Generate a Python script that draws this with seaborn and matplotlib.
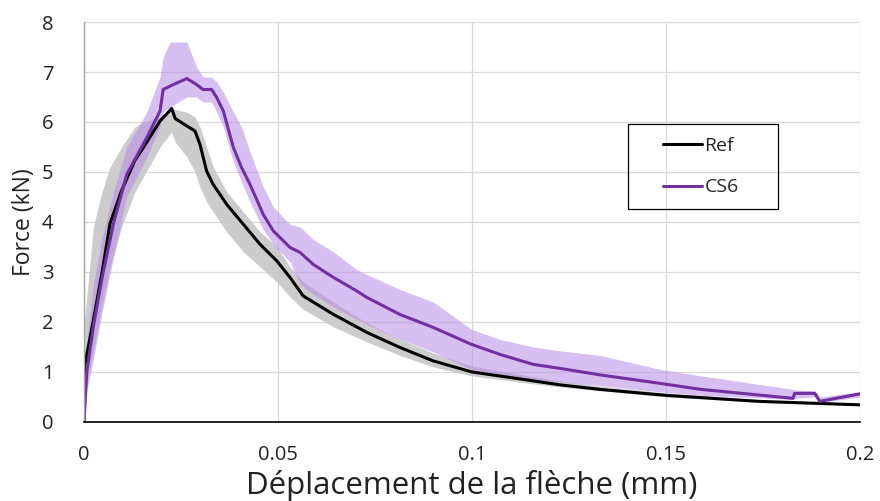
import numpy as np
import pandas as pd
import matplotlib
matplotlib.use("Agg")
import matplotlib.pyplot as plt
from matplotlib.patches import Rectangle
import seaborn as sns

# Ref: mean curve and spread (lower / upper bound of the error band)
ref_x = [0, 0.0001, 0.0024, 0.0046, 0.0067, 0.0097, 0.0131, 0.0153, 0.0196, 0.0226, 0.0235,
         0.0265, 0.0286, 0.0299, 0.0316, 0.0333, 0.0368, 0.0411, 0.0454, 0.0497, 0.0531,
         0.0565, 0.0643, 0.0729, 0.0814, 0.09, 0.0999, 0.1158, 0.1227, 0.133, 0.15,
         0.174, 0.2]
ref_y = [0, 1.1, 2.03, 2.97, 3.97, 4.63, 5.23, 5.49, 6.02, 6.27, 6.07,
         5.92, 5.82, 5.55, 5.02, 4.75, 4.35, 3.95, 3.55, 3.22, 2.89,
         2.52, 2.15, 1.79, 1.49, 1.22, 1.0, 0.82, 0.74, 0.65, 0.53,
         0.41, 0.34]
ref_lo = [0, 0.5, 1.4, 2.3, 3.1, 3.9, 4.6, 4.9, 5.5, 5.8, 5.6,
          5.3, 5.0, 4.7, 4.4, 4.2, 3.8, 3.4, 3.1, 2.8, 2.5,
          2.25, 1.9, 1.6, 1.33, 1.1, 0.92, 0.76, 0.7, 0.62, 0.5,
          0.39, 0.33]
ref_hi = [1.0, 2.0, 3.9, 4.6, 5.1, 5.5, 5.9, 6.0, 6.1, 6.25, 6.25,
          6.2, 6.1, 5.9, 5.5, 5.1, 4.6, 4.2, 3.8, 3.5, 3.1,
          2.8, 2.4, 1.98, 1.65, 1.38, 1.12, 0.9, 0.82, 0.72, 0.58,
          0.44, 0.36]

# CS6
cs6_x = [0, 0.0007, 0.0025, 0.0047, 0.0076, 0.011, 0.0162, 0.0196, 0.0204, 0.0222, 0.0265,
         0.029, 0.0307, 0.0329, 0.0342, 0.0359, 0.0385, 0.0406, 0.0428, 0.0462, 0.0488,
         0.0531, 0.0557, 0.0591, 0.0643, 0.0703, 0.0729, 0.0814, 0.09, 0.0999, 0.1072,
         0.1158, 0.1227, 0.133, 0.1485, 0.159, 0.1828, 0.1832, 0.1884, 0.1897, 0.2]
cs6_y = [0, 1.0, 1.95, 2.9, 3.97, 4.95, 5.69, 6.22, 6.65, 6.72, 6.87,
         6.75, 6.65, 6.65, 6.49, 6.22, 5.49, 5.09, 4.75, 4.15, 3.82,
         3.49, 3.39, 3.15, 2.89, 2.62, 2.49, 2.15, 1.89, 1.55, 1.35,
         1.15, 1.07, 0.94, 0.77, 0.65, 0.47, 0.57, 0.57, 0.41, 0.56]
cs6_lo = [0, 0.6, 1.3, 2.2, 3.3, 4.5, 5.3, 5.9, 6.2, 6.3, 6.5,
          6.5, 6.4, 6.4, 6.2, 5.9, 5.2, 4.8, 4.4, 3.85, 3.55,
          3.2, 2.75, 2.55, 2.3, 2.05, 1.95, 1.65, 1.4, 1.05, 0.95,
          0.85, 0.8, 0.73, 0.6, 0.53, 0.45, 0.47, 0.5, 0.38, 0.5]
cs6_hi = [0.5, 1.6, 2.8, 3.7, 4.6, 5.5, 6.2, 6.9, 7.3, 7.6, 7.6,
          7.1, 6.9, 6.9, 6.8, 6.6, 6.2, 5.9, 5.4, 4.7, 4.3,
          3.95, 3.9, 3.65, 3.4, 3.05, 2.95, 2.65, 2.4, 1.85, 1.65,
          1.5, 1.42, 1.33, 1.05, 0.92, 0.65, 0.64, 0.62, 0.5, 0.6]

x_ticks = [0, 0.05, 0.1, 0.15, 0.2]
x_ticklabels = ["0", "0.05", "0.1", "0.15", "0.2"]
y_ticks = [0, 1, 2, 3, 4, 5, 6, 7, 8]

sns.set_theme(style="white")
plt.rcParams["font.family"] = ["Open Sans", "DejaVu Sans"]

ref = pd.DataFrame({"x": ref_x, "y": ref_y})
cs6 = pd.DataFrame({"x": cs6_x, "y": cs6_y})

fig = plt.figure(figsize=(8.8, 5.01), dpi=100)
ax = fig.add_axes([0.0955, 0.158, 0.8815, 0.798])

ax.fill_between(ref_x, ref_lo, ref_hi, color="#c4c4c4", alpha=0.85, lw=0)
ax.fill_between(cs6_x, cs6_lo, cs6_hi, color="#b98be8", alpha=0.55, lw=0)

sns.lineplot(data=ref, x="x", y="y", sort=False, estimator=None, color="black",
             lw=2.2, ax=ax, label="Ref")
sns.lineplot(data=cs6, x="x", y="y", sort=False, estimator=None, color="#7030a0",
             lw=2.2, ax=ax, label="CS6")

ax.set_xlim(0, 0.2)
ax.set_ylim(0, 8)
ax.set_xticks(x_ticks)
ax.set_xticklabels(x_ticklabels)
ax.set_yticks(y_ticks)
ax.grid(True, color="#d9d9d9", lw=0.9)
ax.set_axisbelow(True)
for s in ["top", "right"]:
    ax.spines[s].set_visible(False)
ax.spines["left"].set_color("#a6a6a6")
ax.spines["left"].set_linewidth(1.0)
ax.spines["bottom"].set_color("black")
ax.spines["bottom"].set_linewidth(1.2)
ax.tick_params(axis="y", length=0, pad=22, labelsize=14.5, colors="#222222")
ax.tick_params(axis="x", length=0, pad=17, labelsize=14.5, colors="#222222")
ax.set_xlabel("Déplacement de la flèche (mm)", fontsize=22.5, labelpad=3, color="#222222")
ax.set_ylabel("Force (kN)", fontsize=16.5, labelpad=4, color="#222222")

ax.legend(loc="center", bbox_to_anchor=(0.795, 0.638), frameon=False, fontsize=14,
          labelspacing=1.2, handlelength=2.0, handletextpad=0.15)
ax.add_patch(Rectangle((0.701, 0.532), 0.193, 0.213, transform=ax.transAxes,
                       fill=False, ec="black", lw=0.9, zorder=5))

fig.savefig("out.png", dpi=100)
